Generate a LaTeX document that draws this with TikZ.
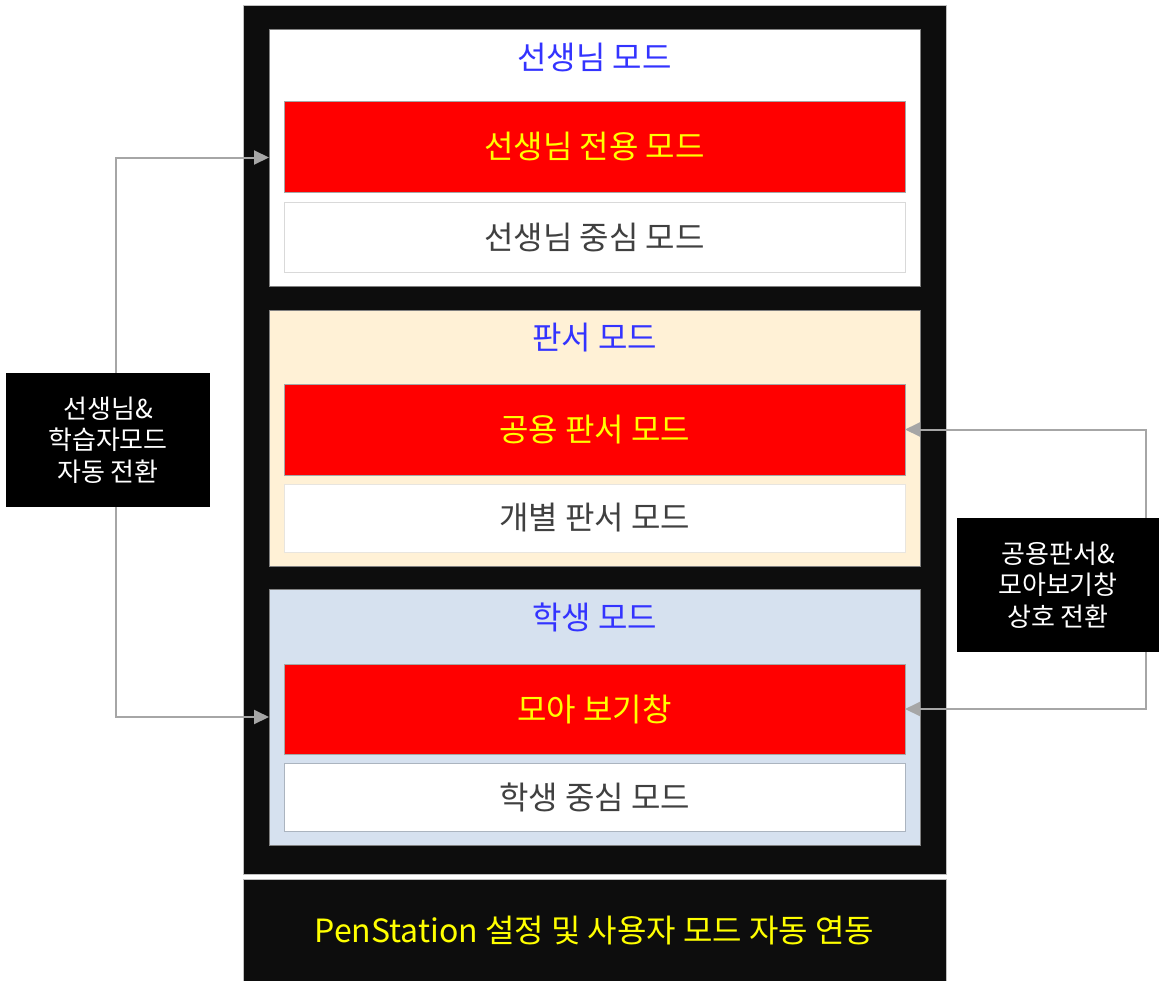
\documentclass[tikz,border=0pt]{standalone}
\usepackage{fontspec}
\setmainfont{Noto Sans CJK KR}
\usetikzlibrary{arrows.meta}
\definecolor{blk}{HTML}{0D0D0D}
\definecolor{ttlblue}{HTML}{3333FF}
\definecolor{ylw}{HTML}{FFFF00}
\definecolor{redbox}{HTML}{FF0000}
\definecolor{dgray}{HTML}{404040}
\definecolor{cream}{HTML}{FFF1D6}
\definecolor{lblue}{HTML}{D6E1EF}
\definecolor{conncol}{HTML}{A6A6A6}
\tikzset{
  mainfont/.style={font=\fontsize{32}{38}\selectfont},
  outerbox/.style={draw=black!25, fill=blk, line width=1pt, inner sep=0pt, outer sep=0pt, minimum width=703pt},
  panel/.style={draw=black!50, line width=0.8pt, inner sep=0pt, outer sep=0pt, minimum width=651pt},
  redbar/.style={draw=black!35, fill=redbox, line width=0.6pt, inner sep=0pt, outer sep=0pt, minimum width=621pt, text=ylw, mainfont},
  whitebar/.style={draw=black!15, fill=white, line width=0.8pt, inner sep=0pt, outer sep=0pt, minimum width=621pt, text=dgray, mainfont},
  ttl/.style={text=ttlblue, mainfont, inner sep=0pt},
  sidelbl/.style={fill=black, text=white, inner sep=0pt, align=center, font=\fontsize{26}{31.5}\selectfont},
  conn/.style={draw=conncol, line width=2pt, {Triangle[length=15pt,width=14pt]}-{Triangle[length=15pt,width=14pt]}}
}
\begin{document}
\begin{tikzpicture}[x=1pt,y=-1pt]
\useasboundingbox (0,0) rectangle (1159,980);
% outer frames
\node[outerbox, minimum height=869pt] (outer) at (594.5,439.5) {};
\node[outerbox, minimum height=104pt, text=ylw, mainfont] (bottom) at (594.5,931) {PenStation 설정 및 사용자 모드 자동 연동};
% teacher panel
\node[panel, fill=white, minimum height=257pt] (tp) at (594.5,157.5) {};
\node[ttl] (tt) at (594.5,57) {선생님 모드};
\node[redbar, minimum height=91pt] (r1) at (594.5,146.5) {선생님 전용 모드};
\node[whitebar, minimum height=70pt] (w1) at (594.5,237) {선생님 중심 모드};
% board panel
\node[panel, fill=cream, minimum height=256pt] (bp) at (594.5,438) {};
\node[ttl] (bt) at (594.5,338) {판서 모드};
\node[redbar, minimum height=91pt] (r2) at (594.5,429.5) {공용 판서 모드};
\node[whitebar, draw=cream!70!black!30, minimum height=68pt] (w2) at (594.5,518) {개별 판서 모드};
% student panel
\node[panel, fill=lblue, minimum height=256pt] (sp) at (594.5,717) {};
\node[ttl] (st) at (594.5,617) {학생 모드};
\node[redbar, minimum height=90pt] (r3) at (594.5,709) {모아 보기창};
\node[whitebar, draw=lblue!80!black, minimum height=68pt] (w3) at (594.5,797) {학생 중심 모드};
% connectors
\coordinate (lx) at (116,0);
\coordinate (rx) at (1146,0);
\draw[conn] (tp.west) -- (tp.west -| lx) -- (sp.west -| lx) -- (sp.west);
\draw[conn] (r2.east) -- (r2.east -| rx) -- (r3.east -| rx) -- (r3.east);
% side labels
\node[sidelbl, minimum width=204pt, minimum height=134pt] (ll) at (108,440) {선생님\&\\학습자모드\\자동 전환};
\node[sidelbl, minimum width=202pt, minimum height=134pt] (rl) at (1058,585) {공용판서\&\\모아보기창\\상호 전환};
\end{tikzpicture}
\end{document}
